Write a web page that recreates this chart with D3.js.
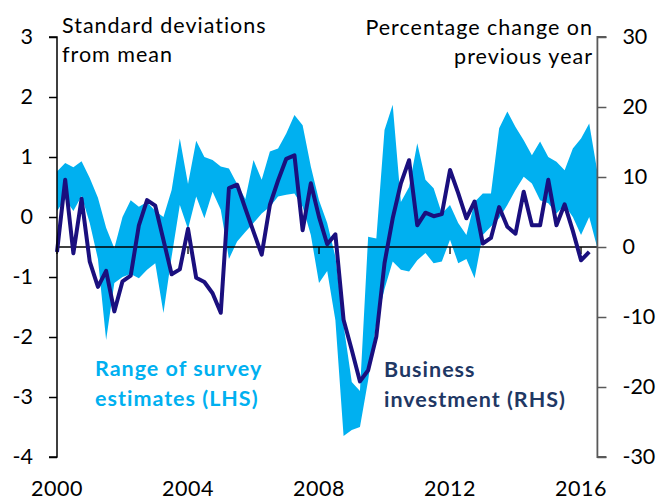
<!DOCTYPE html>
<html>
<head>
<meta charset="utf-8">
<script src="https://cdn.jsdelivr.net/npm/d3@7"></script>
<style>
  html, body { margin: 0; padding: 0; background: #fff; }
  svg { display: block; }
  text { font-family: Lato, "Open Sans", sans-serif; }
</style>
</head>
<body>
<svg id="chart" width="658" height="501"></svg>
<script>
// ---- Data (quarterly, 2000 Q1 onwards) ----
const startYear = 2000;
// Range of survey estimates (LHS, standard deviations from mean)
const bandTop = [0.76,0.9,0.83,0.93, 0.65,0.32,-0.18,-0.52, 0.0,0.28,0.17,0.25, 0.1,0.0,0.45,1.31,
  0.55,1.27,1.0,0.95, 0.84,0.81,0.55,0.3, 0.95,0.62,1.09,1.14, 1.39,1.7,1.53,0.84,
  0.28,-0.1,-0.66,-1.8, -2.75,-2.9,-0.33,-0.36, 1.45,1.87,0.25,0.5, 1.23,0.62,0.48,0.06,
  0.2,-0.1,-0.3,0.25, 0.39,0.39,1.48,1.76, 1.5,1.28,1.03,1.26, 1.0,0.92,0.78,1.14, 1.31,1.56,0.75];
const bandBottom = [0.1,0.3,0.1,0.35, -0.1,-0.7,-2.05,-1.1, -1.0,-0.95,-1.02,-0.88, -0.77,-1.6,-0.66,0.2,
  -0.2,0.34,-0.02,0.42, 0.12,-0.7,-0.41,-0.25, -0.1,0.06,0.17,0.34, 0.37,0.39,0.17,-0.3,
  -1.1,-0.9,-1.72,-3.65, -3.55,-3.5,-2.72,-1.77, -1.2,-0.74,-0.88,-0.91, -0.72,-0.6,-0.77,-0.74,
  -0.38,-0.77,-0.7,-1.02, -0.3,-0.16,-0.02,0.2, 0.45,0.67,0.56,0.28, 0.23,0.06,0.2,0.0, -0.3,0.0,-0.52];
// Business investment (RHS, % change on previous year)
const investment = [-0.7,9.6,-0.9,6.9, -2.1,-5.7,-3.4,-9.2, -4.9,-4.1,3.1,6.7, 5.9,1.0,-3.9,-3.2,
  2.6,-4.4,-5.0,-6.6, -9.4,8.4,8.9,5.5, 2.2,-1.1,6.0,9.5, 12.6,13.1,2.4,9.1,
  4.3,0.4,1.8,-10.4, -14.7,-19.2,-17.6,-12.8, -2.3,4.1,9.1,12.4, 3.1,4.9,4.4,4.7,
  11.0,7.7,4.1,6.5, 0.5,1.3,5.7,2.9, 1.9,7.9,3.1,3.1, 9.6,3.1,6.1,2.3, -1.9,-0.7];
const leftTicks = [3,2,1,0,-1,-2,-3,-4];
const rightTicks = [30,20,10,0,-10,-20,-30];
const yearTicks = [2000,2004,2008,2012,2016];
const leftTitle = ["Standard deviations","from mean"];
const rightTitle = ["Percentage change on","previous year"];
const bandLabel = ["Range of survey","estimates (LHS)"];
const lineLabel = ["Business","investment (RHS)"];

// ---- Scales ----
const x = d3.scaleLinear().domain([2000, 2016.5]).range([57, 597.4]);
const yL = d3.scaleLinear().domain([-4, 3]).range([457, 37]);
const yR = d3.scaleLinear().domain([-30, 30]).range([457, 37]);
const t = i => startYear + i * 0.25;
const fmt = d => String(d); // plain hyphen-minus as in the reference

const svg = d3.select("#chart");

// band
const bandData = bandTop.map((v, i) => ({t: t(i), top: v, bot: bandBottom[i]}));
svg.append("path")
  .datum(bandData)
  .attr("fill", "#00B0F0")
  .attr("d", d3.area().x(d => x(d.t)).y0(d => yL(d.bot)).y1(d => yL(d.top)));

// zero line (RHS zero)
svg.append("line")
  .attr("x1", x(2000)).attr("x2", x(2016.5))
  .attr("y1", yR(0)).attr("y2", yR(0))
  .attr("stroke", "#000").attr("stroke-width", 1.3);
// x ticks
svg.selectAll(".xt").data(yearTicks).enter().append("line")
  .attr("x1", d => x(d)).attr("x2", d => x(d))
  .attr("y1", yR(0)).attr("y2", yR(0) + 7)
  .attr("stroke", "#000").attr("stroke-width", 1.3);

// investment line
svg.append("path")
  .datum(investment.map((v, i) => ({t: t(i), v})))
  .attr("fill", "none")
  .attr("stroke", "#1A0F7E")
  .attr("stroke-width", 4)
  .attr("stroke-linejoin", "round")
  .attr("d", d3.line().x(d => x(d.t)).y(d => yR(d.v)));

// left axis
const gL = svg.append("g").attr("transform", `translate(${x(2000)},0)`)
  .call(d3.axisLeft(yL).tickValues(leftTicks).tickSize(8).tickPadding(16).tickFormat(fmt));
gL.select(".domain").attr("stroke", "#000").attr("stroke-width", 1.5).attr("d", `M-8,${yL(3)}H0V${yL(-4)}H-8`);
gL.selectAll(".tick line").attr("stroke", "#000").attr("stroke-width", 1.5);
gL.selectAll(".tick text").attr("font-size", 21.5).attr("fill", "#000").attr("font-family", "Lato");

// right axis
const gR = svg.append("g").attr("transform", `translate(${x(2016.5)},0)`)
  .call(d3.axisRight(yR).tickValues(rightTicks).tickSize(9).tickPadding(16).tickFormat(fmt));
gR.select(".domain").attr("stroke", "#595959").attr("stroke-width", 1.8).attr("d", `M9,${yR(30)}H0V${yR(-30)}H9`);
gR.selectAll(".tick line").attr("stroke", "#595959").attr("stroke-width", 1.5);
gR.selectAll(".tick text").attr("font-size", 21.5).attr("fill", "#000").attr("font-family", "Lato");

// year labels
svg.selectAll(".yl").data(yearTicks).enter().append("text")
  .attr("x", d => x(d)).attr("y", 496)
  .attr("text-anchor", "middle").attr("font-size", 21.5).attr("fill", "#000")
  .attr("letter-spacing", 0.5)
  .text(d => d);

// titles
svg.selectAll(".lt").data(leftTitle).enter().append("text")
  .attr("x", 62).attr("y", (d, i) => 33 + i * 29)
  .attr("font-size", 21.5).attr("letter-spacing", 1).attr("fill", "#000").text(d => d);
svg.selectAll(".rt").data(rightTitle).enter().append("text")
  .attr("x", 593).attr("y", (d, i) => 35 + i * 29)
  .attr("text-anchor", "end")
  .attr("font-size", 21.5).attr("letter-spacing", 1).attr("fill", "#000").text(d => d);

// series labels
svg.selectAll(".bl").data(bandLabel).enter().append("text")
  .attr("x", 95).attr("y", (d, i) => 376 + i * 30)
  .attr("font-size", 21.5).attr("font-weight", "bold").attr("letter-spacing", 1)
  .attr("fill", "#00B0F0").text(d => d);
svg.selectAll(".ll").data(lineLabel).enter().append("text")
  .attr("x", 384).attr("y", (d, i) => 377 + i * 30)
  .attr("font-size", 21.5).attr("font-weight", "bold").attr("letter-spacing", 1)
  .attr("fill", "#1F3864").text(d => d);
</script>
</body>
</html>
